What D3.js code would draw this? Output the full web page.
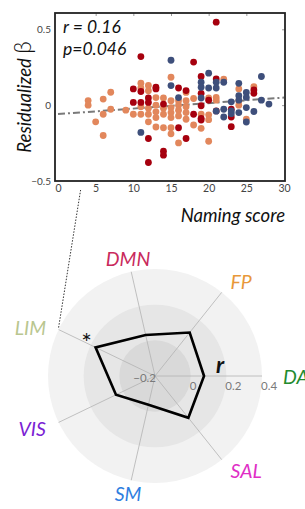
<!DOCTYPE html>
<html><head><meta charset="utf-8">
<script src="https://cdn.jsdelivr.net/npm/d3@7"></script>
<style>body{margin:0;background:#fff}svg{display:block}text{font-family:Lato,"Open Sans",sans-serif}</style>
</head><body>
<svg id="c" width="305" height="509"></svg>
<script>
// ---------- data ----------
const xTicks = [0,5,10,15,20,25,30];
const yTicks = [-0.5,0,0.5];
const darkRedPts = [[10,0.107],[10,0.018],[11,0.32],[11,0.09],[11,0.018],[12,0.047],[12,0.018],[12,-0.22],[12,-0.378],[13,0.118],[13,0.107],[14,0.007],[14,-0.304],[14,-0.33],[16,0.113],[16,-0.149],[17,0.096],[17,-0.22],[18,0.284],[18,-0.06],[19,0.189],[19,0.078],[19,-0.004],[19,-0.087],[19,-0.098],[20,0.033],[21,0.547],[21,0.173],[21,-0.038],[23,-0.027],[23,-0.078],[23,-0.142],[26,0.1],[26,0.078]];
const orangePts = [[4,0.03],[4,0.0],[5,-0.11],[6,0.04],[6,-0.06],[6,-0.2],[7,0.085],[7,-0.027],[9,-0.033],[10,-0.06],[11,0.145],[11,0.113],[11,-0.01],[11,-0.06],[12,0.13],[12,0.095],[12,-0.02],[12,-0.06],[12,-0.11],[13,0.05],[13,0.0],[13,-0.044],[13,-0.082],[13,-0.144],[14,0.047],[14,-0.02],[14,-0.06],[14,-0.149],[15,0.184],[15,0.029],[15,-0.016],[15,-0.049],[15,-0.082],[15,-0.149],[15,-0.189],[16,0.029],[16,0.0],[16,-0.033],[16,-0.071],[16,-0.249],[17,0.084],[17,0.029],[17,-0.01],[17,-0.049],[17,-0.093],[18,0.044],[18,-0.131],[19,-0.06],[19,-0.153],[20,0.047],[20,-0.064],[20,-0.096],[20,-0.238],[21,0.051],[21,0.033],[22,0.171],[24,0.107],[24,0.029],[24,0.0],[25,-0.093],[26,0.122]];
const navyPts = [[11,-0.18],[15,0.296],[15,0.129],[16,0.05],[19,0.151],[19,0.118],[19,0.047],[20,0.211],[20,0.113],[21,0.151],[21,0.113],[21,-0.04],[22,0.151],[22,-0.027],[22,-0.078],[23,0.022],[23,-0.038],[23,-0.056],[24,0.144],[24,0.062],[24,0.033],[24,-0.049],[25,0.084],[25,0.051],[25,-0.016],[25,-0.111],[26,-0.042],[27,0.189],[27,0.033],[28,0.007]];
const fitX = [0,30];
const fitY = [-0.059,0.05];
const statLabels = ["r = 0.16","p=0.046"];

const networks = ["DA","FP","DMN","LIM","VIS","SM","SAL"];
const networkR = [0.075,0.112,0.036,0.17,0.043,-0.035,0.10];
const rTicks = [-0.2,0,0.2,0.4];
const starNetwork = "LIM";
const linkScore = 3;
// ---------- styles ----------
const netColors = {DA:"#238b2e",FP:"#e8983a",DMN:"#c92a5c",LIM:"#b9c68f",VIS:"#7a22d4",SM:"#2f7ee0",SAL:"#e02ec6"};

const svg = d3.select("#c");

// ---------- scatter ----------
const box = {l:55,r:285,t:13,b:181};
const x = d3.scaleLinear().domain([0,30]).range([58,284]);
const y = d3.scaleLinear().domain([-0.5,0.5]).range([181,29.3]);

const g = svg.append("g");
g.append("g").attr("transform",`translate(0,${box.t})`)
  .call(d3.axisTop(x).tickValues(xTicks.slice(1,-1)).tickSize(-3).tickFormat(""))
  .call(s=>{s.select(".domain").remove();s.selectAll("line").attr("stroke","#999");});
g.append("g").attr("transform",`translate(${box.r},0)`)
  .call(d3.axisRight(y).tickValues([0,0.5]).tickSize(-3).tickFormat(""))
  .call(s=>{s.select(".domain").remove();s.selectAll("line").attr("stroke","#999");});
g.append("g").attr("transform",`translate(0,${box.b})`)
  .call(d3.axisBottom(x).tickValues(xTicks).tickSize(0).tickPadding(4).tickFormat(d3.format("d")))
  .call(s=>{s.select(".domain").remove();s.selectAll("text").attr("fill","#444").attr("font-size",10.5);});
g.append("g").attr("transform",`translate(${box.l},0)`)
  .call(d3.axisLeft(y).tickValues(yTicks).tickSize(0).tickPadding(4).tickFormat(d=>d===0?"0":d3.format(".1f")(d)))
  .call(s=>{s.select(".domain").remove();s.selectAll("text").attr("fill","#444").attr("font-size",10);});

g.append("line").attr("x1",x(fitX[0])).attr("y1",y(fitY[0])).attr("x2",x(fitX[1])).attr("y2",y(fitY[1]))
  .attr("stroke","#7a7a7a").attr("stroke-width",2).attr("stroke-dasharray","7,3,2,3");

const layers = [[orangePts,"#e2875c"],[darkRedPts,"#a6000e"],[navyPts,"#3e4f7b"]];
layers.forEach(([pts,col])=>{
  g.append("g").selectAll("circle").data(pts).join("circle")
    .attr("cx",d=>x(d[0])).attr("cy",d=>y(d[1])).attr("r",3.4).attr("fill",col);
});

g.append("rect").attr("x",box.l).attr("y",box.t).attr("width",box.r-box.l).attr("height",box.b-box.t)
  .attr("fill","none").attr("stroke","#222").attr("stroke-width",1.8);

g.selectAll(".stat").data(statLabels).join("text")
  .attr("x",63).attr("y",(d,i)=>33+i*22).attr("font-size",17.5).attr("font-style","italic").attr("fill","#111").text(d=>d);

const yl = g.append("text").attr("transform",`translate(31,${(box.t+box.b)/2}) rotate(-90)`)
  .attr("text-anchor","middle").attr("font-size",18.5).attr("font-style","italic").attr("fill","#111");
yl.append("tspan").text("Residualized ");
yl.append("tspan").attr("font-size",23).attr("font-style","normal").attr("font-weight",300).text("β");
g.append("text").attr("x",285).attr("y",222).attr("text-anchor","end")
  .attr("font-size",18.5).attr("font-style","italic").attr("fill","#111").text("Naming score");

// ---------- radar ----------
const cx = 155, cy = 376;
const rs = d3.scaleLinear().domain([-0.2,0.4]).range([0,107]);
const ang = i => i*2*Math.PI/networks.length;
const px = (i,r)=>cx+r*Math.cos(ang(i));
const py = (i,r)=>cy-r*Math.sin(ang(i));

const rg = svg.append("g");
const ringFill = ["#d9d9d9","#e6e6e6","#f2f2f2"];
[rTicks[3],rTicks[2],rTicks[1]].forEach((v,k)=>{
  rg.append("circle").attr("cx",cx).attr("cy",cy).attr("r",rs(v)).attr("fill",ringFill[2-k]);
});
networks.forEach((n,i)=>{
  rg.append("line").attr("x1",cx).attr("y1",cy).attr("x2",px(i,rs(0.4))).attr("y2",py(i,rs(0.4)))
    .attr("stroke","#b3b3b3").attr("stroke-width",0.8);
});
rTicks.forEach(v=>{
  const first = v===rTicks[0];
  rg.append("text").attr("x",first?cx+1:cx+rs(v)-1).attr("y",first?377:385)
    .attr("dominant-baseline","central").attr("text-anchor",first?"end":"start")
    .attr("font-size",11.5).attr("fill","#7a7a7a").text(v===0?"0":d3.format(".1f")(v));
});
const line = d3.lineRadial().angle((d,i)=>Math.PI/2-ang(i)).radius(d=>rs(d)).curve(d3.curveLinearClosed);
rg.append("path").attr("transform",`translate(${cx},${cy})`).attr("d",line(networkR))
  .attr("fill","none").attr("stroke","#000").attr("stroke-width",2.6).attr("stroke-linejoin","miter");

networks.forEach((n,i)=>{
  const c = Math.cos(ang(i));
  const R = n==="DA"?128:121;
  rg.append("text").attr("x",px(i,R)).attr("y",py(i,R)+(n==="LIM"?4:0))
    .attr("text-anchor",c>0.5?"start":(c<-0.5?"end":"middle")).attr("dominant-baseline","central")
    .attr("font-size",19.5).attr("font-style","italic").attr("fill",netColors[n]).text(n);
});
const si = networks.indexOf(starNetwork);
rg.append("text").attr("x",px(si,rs(networkR[si]))-9).attr("y",py(si,rs(networkR[si]))+5)
  .attr("text-anchor","middle").attr("font-size",25).attr("fill","#111").text("*");
rg.append("text").attr("x",216).attr("y",373).attr("font-size",23).attr("font-style","italic").attr("font-weight","bold").attr("fill","#111").text("r");

svg.append("line").attr("x1",px(si,rs(0.4))).attr("y1",py(si,rs(0.4))-2).attr("x2",x(linkScore)).attr("y2",box.b+9)
  .attr("stroke","#333").attr("stroke-width",1).attr("stroke-dasharray","1.5,1.5");
</script>
</body></html>
